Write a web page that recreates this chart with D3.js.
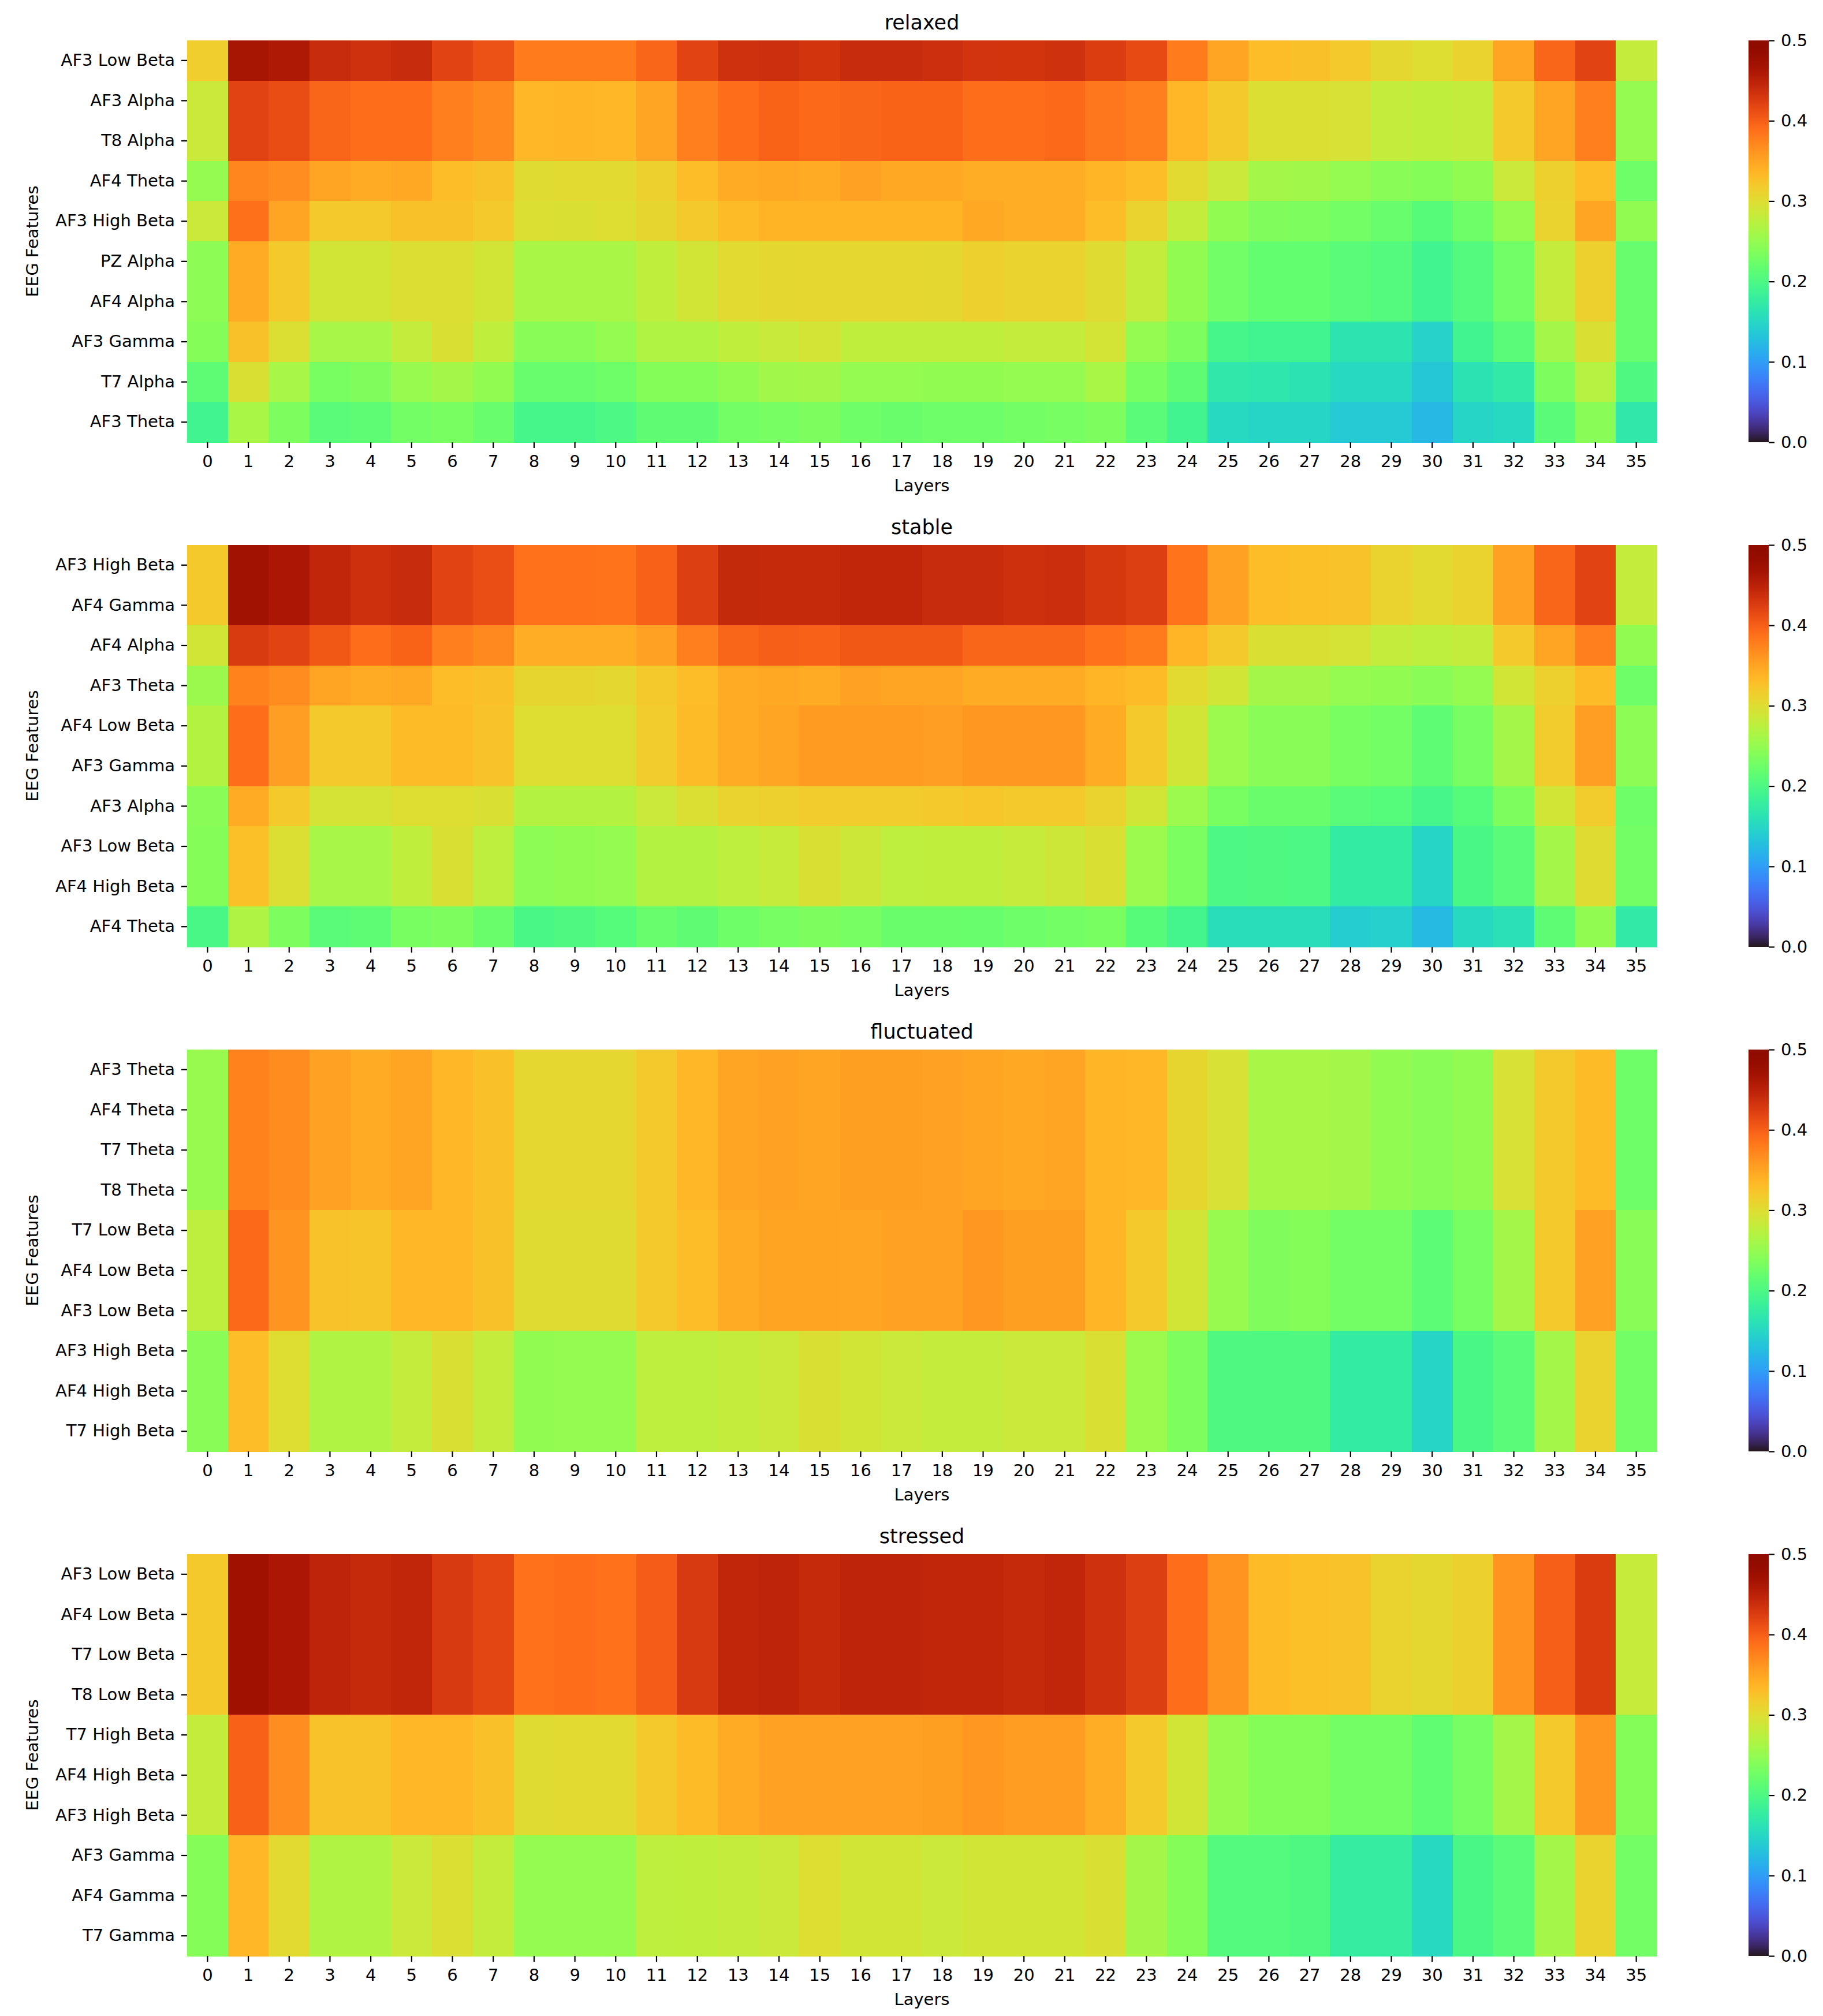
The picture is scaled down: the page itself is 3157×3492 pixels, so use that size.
<!DOCTYPE html>
<html>
<head>
<meta charset="utf-8">
<script src="https://cdn.jsdelivr.net/npm/d3@7"></script>
<style>
body { margin: 0; background: #fff; }
text { font-family: "DejaVu Sans", sans-serif; fill: #000; }
</style>
</head>
<body>
<svg></svg>
<script>
// heatmaps of attention per layer, 4 states
const layers = d3.range(36)
const titles = ["relaxed", "stable", "fluctuated", "stressed"]

const relaxedRows = ["AF3 Low Beta", "AF3 Alpha", "T8 Alpha", "AF4 Theta", "AF3 High Beta", "PZ Alpha", "AF4 Alpha", "AF3 Gamma", "T7 Alpha", "AF3 Theta"]
const stableRows = ["AF3 High Beta", "AF4 Gamma", "AF4 Alpha", "AF3 Theta", "AF4 Low Beta", "AF3 Gamma", "AF3 Alpha", "AF3 Low Beta", "AF4 High Beta", "AF4 Theta"]
const fluctuatedRows = ["AF3 Theta", "AF4 Theta", "T7 Theta", "T8 Theta", "T7 Low Beta", "AF4 Low Beta", "AF3 Low Beta", "AF3 High Beta", "AF4 High Beta", "T7 High Beta"]
const stressedRows = ["AF3 Low Beta", "AF4 Low Beta", "T7 Low Beta", "T8 Low Beta", "T7 High Beta", "AF4 High Beta", "AF3 High Beta", "AF3 Gamma", "AF4 Gamma", "T7 Gamma"]

// relaxed
const rAF3LowBeta = [0.315,0.465,0.46,0.44,0.435,0.44,0.42,0.41,0.38,0.38,0.38,0.395,0.42,0.435,0.437,0.432,0.44,0.44,
	0.437,0.433,0.432,0.435,0.425,0.415,0.38,0.35,0.33,0.328,0.32,0.305,0.30,0.31,0.35,0.395,0.42,0.28]
const rAlpha = [0.285,0.42,0.413,0.395,0.39,0.39,0.378,0.37,0.335,0.337,0.335,0.35,0.378,0.39,0.397,0.393,0.395,0.397,
	0.397,0.39,0.39,0.393,0.383,0.378,0.335,0.32,0.298,0.298,0.295,0.28,0.278,0.28,0.32,0.35,0.378,0.25]
const rAF4Theta = [0.25,0.372,0.367,0.35,0.345,0.347,0.33,0.325,0.302,0.303,0.303,0.313,0.33,0.345,0.347,0.345,0.352,0.347,
	0.347,0.343,0.343,0.343,0.337,0.33,0.303,0.285,0.26,0.258,0.25,0.243,0.24,0.248,0.285,0.313,0.33,0.225]
const rAF3HighBeta = [0.285,0.388,0.35,0.32,0.32,0.327,0.327,0.32,0.298,0.297,0.30,0.308,0.32,0.332,0.338,0.338,0.338,0.338,
	0.338,0.347,0.343,0.343,0.33,0.31,0.28,0.248,0.237,0.235,0.228,0.22,0.208,0.225,0.25,0.31,0.35,0.248]
const rPzAF4Alpha = [0.245,0.345,0.32,0.29,0.29,0.299,0.299,0.29,0.263,0.263,0.263,0.278,0.29,0.303,0.305,0.307,0.307,0.307,
	0.305,0.313,0.31,0.31,0.302,0.28,0.248,0.227,0.217,0.217,0.21,0.205,0.19,0.205,0.227,0.28,0.313,0.22]
const rAF3Gamma = [0.24,0.327,0.298,0.262,0.262,0.28,0.297,0.278,0.243,0.243,0.25,0.268,0.268,0.278,0.283,0.292,0.278,0.278,
	0.278,0.278,0.28,0.28,0.292,0.25,0.235,0.195,0.19,0.19,0.165,0.165,0.145,0.19,0.21,0.26,0.297,0.22]
const rT7Alpha = [0.213,0.297,0.262,0.232,0.237,0.252,0.26,0.248,0.22,0.22,0.225,0.24,0.24,0.248,0.258,0.26,0.25,0.25,
	0.248,0.248,0.25,0.25,0.263,0.232,0.214,0.17,0.168,0.163,0.152,0.152,0.135,0.163,0.172,0.235,0.272,0.202]
const rAF3Theta = [0.19,0.263,0.235,0.21,0.213,0.228,0.232,0.22,0.195,0.195,0.2,0.214,0.214,0.228,0.23,0.235,0.225,0.222,
	0.224,0.224,0.228,0.23,0.235,0.21,0.19,0.152,0.148,0.148,0.137,0.137,0.122,0.148,0.152,0.21,0.243,0.17]

// stable
const sTop = [0.32,0.47,0.462,0.445,0.436,0.44,0.42,0.412,0.387,0.387,0.385,0.398,0.424,0.443,0.442,0.442,0.445,0.445,
	0.44,0.44,0.436,0.438,0.43,0.424,0.385,0.352,0.33,0.329,0.325,0.31,0.303,0.31,0.352,0.395,0.42,0.28]
const sAF4Alpha = [0.29,0.427,0.42,0.405,0.39,0.397,0.378,0.37,0.343,0.343,0.343,0.352,0.378,0.395,0.4,0.398,0.405,0.405,
	0.405,0.395,0.395,0.395,0.387,0.38,0.337,0.32,0.297,0.297,0.293,0.28,0.277,0.28,0.32,0.35,0.378,0.248]
const sAF3Theta = [0.254,0.375,0.368,0.35,0.345,0.347,0.33,0.328,0.308,0.308,0.305,0.32,0.33,0.345,0.347,0.345,0.352,0.35,
	0.35,0.345,0.345,0.345,0.337,0.332,0.303,0.29,0.26,0.26,0.25,0.248,0.243,0.25,0.29,0.313,0.332,0.225]
const sMid = [0.27,0.39,0.355,0.32,0.32,0.332,0.332,0.325,0.3,0.3,0.3,0.318,0.332,0.345,0.35,0.357,0.357,0.357,
	0.355,0.36,0.36,0.36,0.345,0.32,0.29,0.255,0.243,0.243,0.232,0.228,0.213,0.23,0.26,0.318,0.355,0.245]
const sAF3Alpha = [0.243,0.345,0.32,0.293,0.293,0.3,0.3,0.297,0.27,0.27,0.27,0.285,0.298,0.31,0.313,0.318,0.318,0.318,
	0.32,0.323,0.32,0.32,0.31,0.29,0.255,0.232,0.222,0.222,0.21,0.207,0.195,0.207,0.235,0.29,0.318,0.225]
const sLow = [0.24,0.329,0.298,0.262,0.262,0.278,0.297,0.277,0.245,0.248,0.25,0.27,0.27,0.277,0.282,0.297,0.287,0.277,
	0.278,0.278,0.282,0.287,0.297,0.255,0.233,0.2,0.202,0.2,0.175,0.175,0.148,0.197,0.21,0.26,0.302,0.228]
const sAF4Theta = [0.197,0.267,0.235,0.21,0.213,0.232,0.235,0.222,0.197,0.202,0.207,0.22,0.214,0.225,0.23,0.235,0.23,0.222,
	0.222,0.22,0.224,0.228,0.232,0.208,0.192,0.157,0.157,0.157,0.14,0.143,0.123,0.152,0.16,0.213,0.248,0.172]

// fluctuated
const fTheta = [0.252,0.375,0.368,0.352,0.345,0.35,0.335,0.328,0.307,0.307,0.307,0.32,0.335,0.35,0.352,0.35,0.354,0.354,
	0.352,0.35,0.347,0.35,0.337,0.335,0.308,0.295,0.263,0.263,0.26,0.248,0.243,0.248,0.295,0.32,0.332,0.225]
const fLowBeta = [0.277,0.393,0.362,0.325,0.324,0.335,0.335,0.327,0.302,0.302,0.302,0.32,0.33,0.345,0.351,0.351,0.35,0.352,
	0.352,0.36,0.354,0.354,0.337,0.32,0.29,0.252,0.237,0.24,0.228,0.228,0.212,0.23,0.26,0.32,0.352,0.243]
const fHighBeta = [0.243,0.33,0.3,0.268,0.268,0.28,0.297,0.28,0.248,0.25,0.25,0.277,0.277,0.28,0.285,0.297,0.29,0.285,
	0.28,0.28,0.285,0.285,0.297,0.255,0.235,0.202,0.202,0.202,0.175,0.175,0.148,0.197,0.21,0.26,0.31,0.228]

// stressed
const tLowBeta = [0.32,0.472,0.462,0.448,0.442,0.445,0.428,0.418,0.387,0.39,0.387,0.402,0.428,0.445,0.448,0.442,0.448,0.448,
	0.445,0.445,0.442,0.445,0.435,0.424,0.39,0.362,0.332,0.329,0.325,0.31,0.305,0.312,0.362,0.4,0.426,0.282]
const tHighBeta = [0.28,0.398,0.367,0.325,0.325,0.335,0.335,0.328,0.302,0.303,0.303,0.32,0.332,0.345,0.352,0.352,0.352,0.352,
	0.354,0.36,0.356,0.356,0.343,0.32,0.29,0.252,0.24,0.24,0.228,0.228,0.215,0.23,0.26,0.32,0.36,0.24]
const tGamma = [0.24,0.335,0.303,0.268,0.268,0.285,0.298,0.28,0.25,0.25,0.25,0.277,0.278,0.28,0.285,0.3,0.29,0.29,
	0.285,0.29,0.29,0.29,0.297,0.26,0.24,0.205,0.205,0.202,0.177,0.177,0.152,0.197,0.21,0.26,0.31,0.228]

const panels = [
	{title: titles[0], rows: relaxedRows, values: [rAF3LowBeta, rAlpha, rAlpha, rAF4Theta, rAF3HighBeta, rPzAF4Alpha, rPzAF4Alpha, rAF3Gamma, rT7Alpha, rAF3Theta]},
	{title: titles[1], rows: stableRows, values: [sTop, sTop, sAF4Alpha, sAF3Theta, sMid, sMid, sAF3Alpha, sLow, sLow, sAF4Theta]},
	{title: titles[2], rows: fluctuatedRows, values: [fTheta, fTheta, fTheta, fTheta, fLowBeta, fLowBeta, fLowBeta, fHighBeta, fHighBeta, fHighBeta]},
	{title: titles[3], rows: stressedRows, values: [tLowBeta, tLowBeta, tLowBeta, tLowBeta, tHighBeta, tHighBeta, tHighBeta, tGamma, tGamma, tGamma]}
]

const colorTicks = [0, 0.1, 0.2, 0.3, 0.4, 0.5]

const W = 3157, H = 3492
const svg = d3.select("svg").attr("width", W).attr("height", H)

const left = 324, right = 2869
const panelH = 696, panelStep = 874, firstTop = 70
const cbX = 3028, cbW = 35

const color = d3.scaleSequential(d3.interpolateTurbo).domain([0, 0.5])

const x = d3.scaleBand().domain(layers).range([left, right])

//colorbar gradient
const grad = svg.append("defs").append("linearGradient")
	.attr("id", "turbo")
	.attr("x1", 0).attr("y1", 1).attr("x2", 0).attr("y2", 0)
grad.selectAll("stop")
	.data(d3.range(0, 1.0001, 0.01))
	.enter()
	.append("stop")
	.attr("offset", d => d)
	.attr("stop-color", d => d3.interpolateTurbo(d))

panels.forEach((p, pi) => {
	const top = firstTop + pi * panelStep
	const y = d3.scaleBand().domain(p.rows.map((r, i) => i)).range([top, top + panelH])
	const g = svg.append("g")

	const cells = []
	p.values.forEach((row, ri) => row.forEach((v, ci) => cells.push({r: ri, c: ci, v: v})))

	g.selectAll("rect.cell")
		.data(cells)
		.enter()
		.append("rect")
		.attr("class", "cell")
		.attr("x", d => x(d.c))
		.attr("y", d => y(d.r))
		.attr("width", x.bandwidth() + 0.6)
		.attr("height", y.bandwidth() + 0.6)
		.attr("fill", d => color(d.v))
		.attr("shape-rendering", "crispEdges")

	//x axis
	const xAxis = g.append("g")
		.attr("transform", `translate(0,${top + panelH})`)
		.call(d3.axisBottom(x).tickSize(10).tickPadding(12))
	xAxis.select(".domain").remove()
	xAxis.selectAll("line").attr("stroke-width", 2.2)
	xAxis.selectAll("text").style("font-size", "29px")

	//y axis
	const yAxis = g.append("g")
		.attr("transform", `translate(${left},0)`)
		.call(d3.axisLeft(y).tickSize(10).tickPadding(11).tickFormat(i => p.rows[i]))
	yAxis.select(".domain").remove()
	yAxis.selectAll("line").attr("stroke-width", 2.2)
	yAxis.selectAll("text").style("font-size", "29px")

	//title and labels
	g.append("text")
		.attr("x", (left + right) / 2)
		.attr("y", top - 19)
		.attr("text-anchor", "middle")
		.style("font-size", "35px")
		.text(p.title)

	g.append("text")
		.attr("x", (left + right) / 2)
		.attr("y", top + panelH + 85)
		.attr("text-anchor", "middle")
		.style("font-size", "29px")
		.text("Layers")

	g.append("text")
		.attr("transform", `translate(66,${top + panelH / 2}) rotate(-90)`)
		.attr("text-anchor", "middle")
		.style("font-size", "29px")
		.text("EEG Features")

	//colorbar
	g.append("rect")
		.attr("x", cbX)
		.attr("y", top)
		.attr("width", cbW)
		.attr("height", panelH)
		.attr("fill", "url(#turbo)")

	const cbScale = d3.scaleLinear().domain([0, 0.5]).range([top + panelH, top])
	const cbAxis = g.append("g")
		.attr("transform", `translate(${cbX + cbW},0)`)
		.call(d3.axisRight(cbScale).tickValues(colorTicks).tickFormat(d3.format(".1f")).tickSize(10).tickPadding(11))
	cbAxis.select(".domain").remove()
	cbAxis.selectAll("line").attr("stroke-width", 2.2)
	cbAxis.selectAll("text").style("font-size", "29px")
})
</script>
</body>
</html>
